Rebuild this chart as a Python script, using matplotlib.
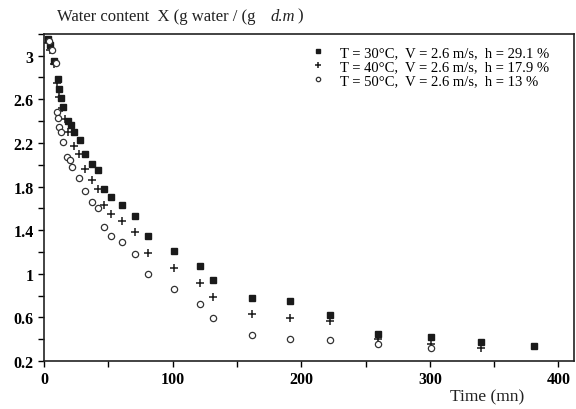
import matplotlib
matplotlib.use('Agg')
import matplotlib.pyplot as plt
from matplotlib.ticker import MultipleLocator

plt.rcParams['font.family'] = ['Liberation Serif', 'DejaVu Serif']

# T=30C series (filled squares)
t_30 = [3, 5, 8, 11, 12, 13, 15, 19, 21, 23, 28, 32, 37, 42, 47, 52, 61, 71, 81,
        101, 121, 131, 162, 191, 222, 260, 301, 340, 381]
x_30 = [3.15, 3.10, 2.95, 2.79, 2.69, 2.61, 2.53, 2.40, 2.36, 2.30, 2.23, 2.10, 2.01,
        1.95, 1.78, 1.70, 1.63, 1.53, 1.35, 1.21, 1.07, 0.94, 0.78, 0.75, 0.62, 0.45,
        0.42, 0.37, 0.34]

# T=40C series (plus)
t_40 = [3, 5, 8, 10, 12, 14, 16, 19, 23, 27, 32, 37, 42, 47, 52, 61, 71, 81,
        101, 121, 131, 162, 191, 222, 260, 301, 340]
x_40 = [3.12, 3.05, 2.92, 2.75, 2.62, 2.52, 2.42, 2.30, 2.17, 2.10, 1.96, 1.86, 1.78,
        1.63, 1.55, 1.48, 1.38, 1.19, 1.05, 0.92, 0.79, 0.63, 0.59, 0.57, 0.40, 0.36,
        0.32]

# T=50C series (open circles)
t_50 = [4, 6, 9, 10, 11, 12, 13, 15, 18, 20, 22, 27, 32, 37, 42, 47, 52, 61, 71, 81,
        101, 121, 131, 162, 191, 222, 260, 301]
x_50 = [3.13, 3.05, 2.93, 2.48, 2.43, 2.35, 2.30, 2.21, 2.07, 2.04, 1.98, 1.88, 1.76,
        1.66, 1.60, 1.43, 1.35, 1.29, 1.18, 1.00, 0.86, 0.72, 0.59, 0.44, 0.40, 0.39,
        0.36, 0.32]

labels = ['T = 30°C,  V = 2.6 m/s,  h = 29.1 %',
          'T = 40°C,  V = 2.6 m/s,  h = 17.9 %',
          'T = 50°C,  V = 2.6 m/s,  h = 13 %']

fig = plt.figure(figsize=(5.76, 4.10), dpi=100)
ax = fig.add_axes([0.0764, 0.117, 0.92, 0.798])

ax.plot(t_30, x_30, 's', color='#1a1a1a', markersize=5, label=labels[0])
ax.plot(t_40, x_40, '+', color='#1a1a1a', markersize=6, markeredgewidth=1.1, label=labels[1])
ax.plot(t_50, x_50, 'o', markerfacecolor='white', markeredgecolor='#333333',
        markersize=4.5, markeredgewidth=0.9, label=labels[2])

ax.set_xlim(0, 412)
ax.set_ylim(0.2, 3.2)
ax.xaxis.set_major_locator(MultipleLocator(100))
ax.xaxis.set_minor_locator(MultipleLocator(50))
ax.yaxis.set_major_locator(MultipleLocator(0.4))
ax.yaxis.set_minor_locator(MultipleLocator(0.2))
ax.set_yticks([0.2, 0.6, 1.0, 1.4, 1.8, 2.2, 2.6, 3.0])
ax.set_yticklabels(['0.2', '0.6', '1', '1.4', '1.8', '2.2', '2.6', '3'])
ax.tick_params(which='both', direction='out', length=4, width=1, labelsize=11.5)
for lab in ax.get_xticklabels() + ax.get_yticklabels():
    lab.set_fontweight('bold')
for s in ax.spines.values():
    s.set_linewidth(1.2)
    s.set_color('#222222')

ax.legend(loc='upper left', bbox_to_anchor=(0.487, 0.995), frameon=False,
          fontsize=10.5, handletextpad=1.1, labelspacing=0.05, borderaxespad=0.3,
          handlelength=0.8, markerscale=0.7)

fig.text(0.099, 0.94, 'Water content  X (g water / (g', fontsize=12,
         ha='left', va='bottom', color='#222222')
fig.text(0.470, 0.94, 'd.m', fontsize=12, fontstyle='italic',
         ha='left', va='bottom', color='#222222')
fig.text(0.516, 0.94, ')', fontsize=12, ha='left', va='bottom', color='#222222')
fig.text(0.781, 0.012, 'Time (mn)', fontsize=12.5, ha='left', va='bottom', color='#222222')

fig.savefig('out.png', dpi=100)
